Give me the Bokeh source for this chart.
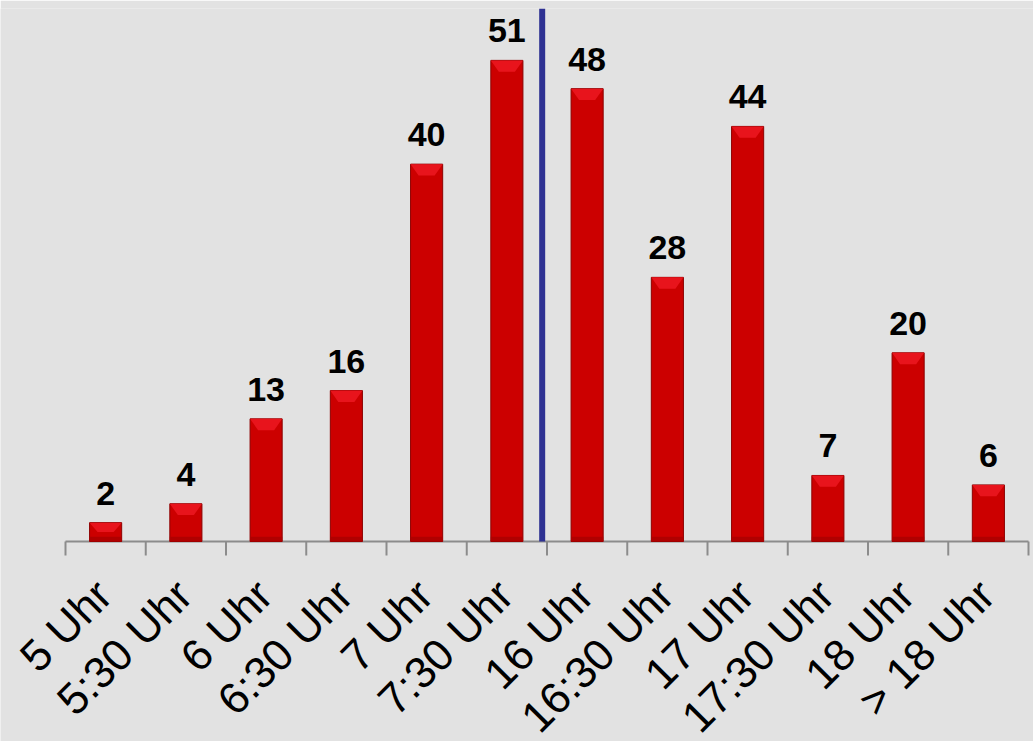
import math
from bokeh.plotting import figure
from bokeh.models import Range1d, ColumnDataSource, LabelSet
from bokeh.core.properties import value
from bokeh.embed import file_html
from bokeh.resources import INLINE

categories = ["5 Uhr", "5:30 Uhr", "6 Uhr", "6:30 Uhr", "7 Uhr", "7:30 Uhr",
              "16 Uhr", "16:30 Uhr", "17 Uhr", "17:30 Uhr", "18 Uhr", "> 18 Uhr"]
values = [2, 4, 13, 16, 40, 51, 48, 28, 44, 7, 20, 6]
split_category = "16 Uhr"

BG = "#e2e2e2"
W, H = 1033, 741
TOP_PAD, AXIS_Y = 8, 541          # pixel rows of the plot top and of the zero line
AXIS_LEFT, AXIS_RIGHT = 65, 1028  # pixel columns where the category axis starts / ends
YMAX = 56.5
n = len(categories)

unit = (AXIS_Y - TOP_PAD) / YMAX                 # pixels per value unit
xunit = (AXIS_RIGHT - AXIS_LEFT) / n             # pixels per category
YMIN = -(H - AXIS_Y) / unit                      # frame reaches the canvas bottom
XMIN = -AXIS_LEFT / xunit                        # ... and both side edges
XMAX = n + (W - AXIS_RIGHT) / xunit

xs = [i + 0.5 for i in range(n)]
bw = 0.4

p = figure(width=W, height=H, output_backend="svg", toolbar_location=None,
           x_range=Range1d(XMIN, XMAX), y_range=Range1d(YMIN, YMAX),
           min_border_left=0, min_border_right=0, min_border_top=TOP_PAD, min_border_bottom=0,
           background_fill_color=BG, border_fill_color=BG, outline_line_color=None,
           x_axis_type=None, y_axis_type=None)
p.grid.visible = False

src = ColumnDataSource(dict(x=xs, top=values, lab=[str(v) for v in values],
                            zero=[0] * n, cat=categories))

# category axis: baseline and boundary ticks
bounds = list(range(n + 1))
tick_len = 14 / unit
p.segment(x0=0, y0=0, x1=n, y1=0, line_color="#8c8c8c", line_width=2)
p.segment(x0=bounds, y0=[0] * len(bounds), x1=bounds, y1=[-tick_len] * len(bounds),
          line_color="#8c8c8c", line_width=2)

# main bars
p.vbar(x="x", top="top", bottom=0, width=bw, source=src,
       fill_color="#cc0000", line_color="#8c0000", line_width=1)

# bevel highlight on top of each bar (derived from values)
bev_h = 1.2
inset = 0.1
px, py = [], []
for x, v in zip(xs, values):
    h = min(bev_h, v * 0.5)
    px.append([x - bw / 2, x + bw / 2, x + bw / 2 - inset, x - bw / 2 + inset])
    py.append([v, v, v - h, v - h])
p.patches(px, py, fill_color="#e8141c", line_color=None)
# darker base strip
p.vbar(x="x", top=0.5, bottom=0, width=bw, source=src, fill_color="#b00000", line_color=None)

# divider between morning and evening
split = categories.index(split_category)
p.segment(x0=split - 0.06, y0=0, x1=split - 0.06, y1=YMAX, line_color="#2e3192", line_width=6)

labels = LabelSet(x="x", y="top", text="lab", source=src, text_align="center",
                  text_baseline="bottom", y_offset=18, text_font=value("Liberation Sans"),
                  text_font_style="bold", text_font_size="34px", text_color="black")
p.add_layout(labels)

cat_labels = LabelSet(x="x", y="zero", text="cat", source=src, angle=math.pi / 4,
                      text_align="right", text_baseline="middle", x_offset=-2, y_offset=-46,
                      text_font=value("Liberation Sans"), text_font_size="44px",
                      text_color="black")
p.add_layout(cat_labels)

open("out.html", "w").write(file_html(p, INLINE))
